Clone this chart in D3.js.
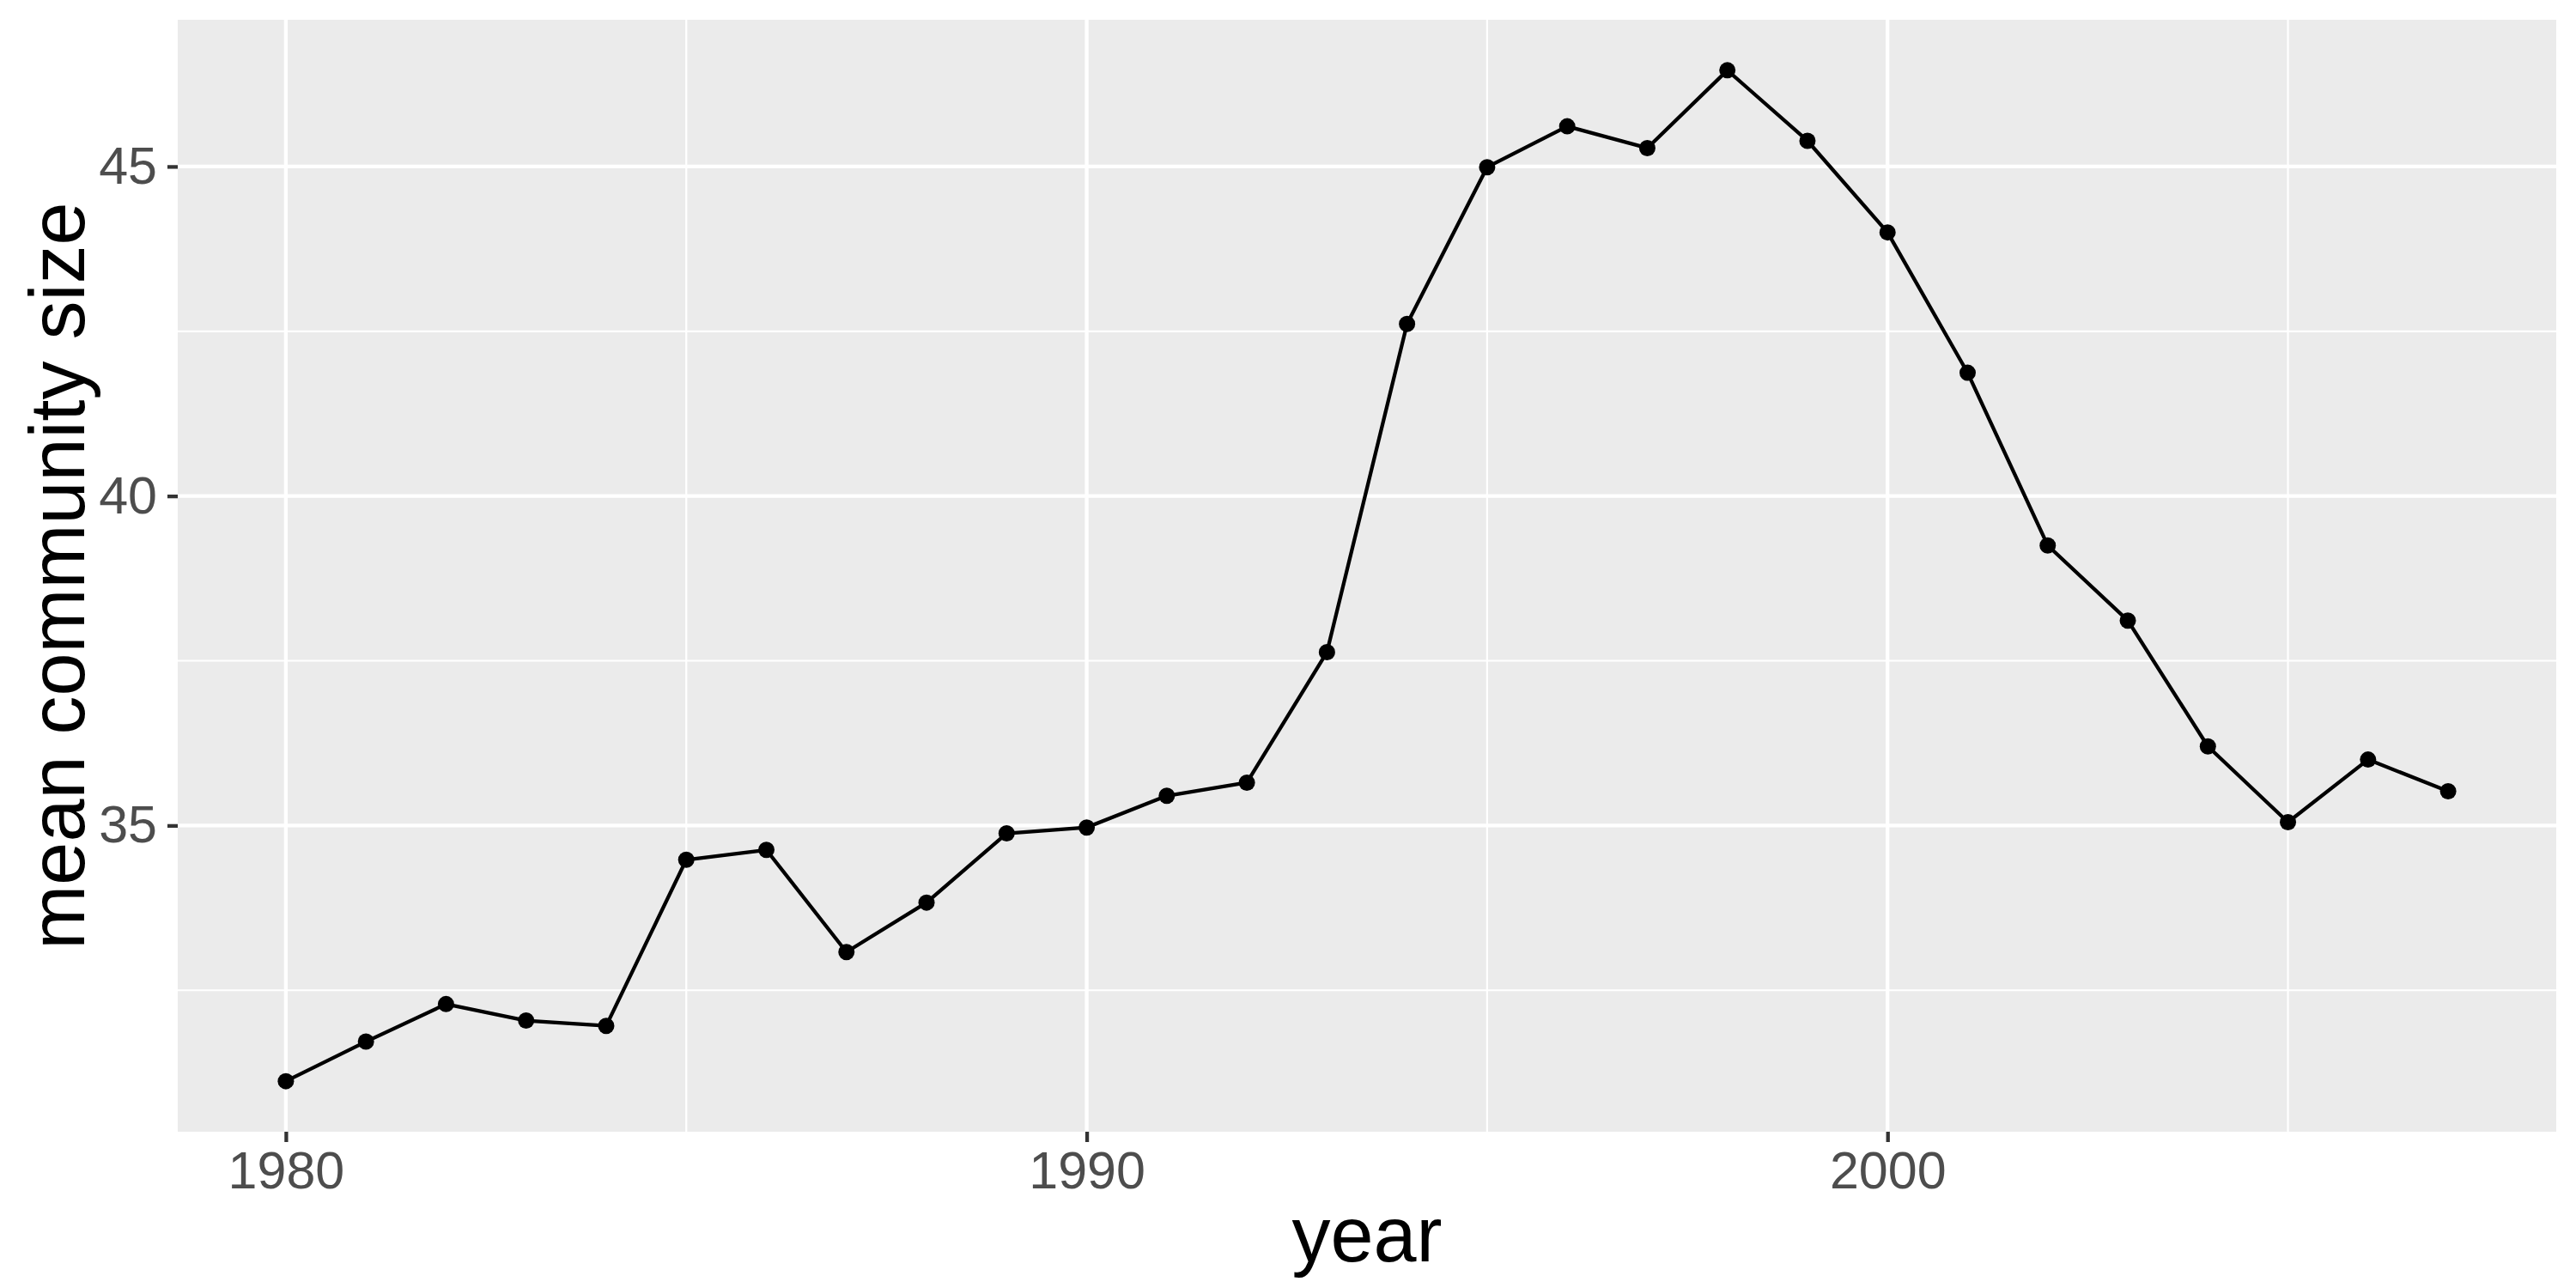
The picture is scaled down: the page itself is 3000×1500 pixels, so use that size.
<!DOCTYPE html>
<html>
<head>
<meta charset="utf-8">
<script src="https://cdn.jsdelivr.net/npm/d3@7"></script>
<style>
  html, body { margin: 0; padding: 0; background: #ffffff; }
  svg { display: block; }
  text { font-family: "Liberation Sans", Arial, Helvetica, sans-serif; }
</style>
</head>
<body>
<script>
const years = [1980,1981,1982,1983,1984,1985,1986,1987,1988,1989,1990,1991,1992,1993,
               1994,1995,1996,1997,1998,1999,2000,2001,2002,2003,2004,2005,2006,2007];
const meanSize = [31.12,31.72,32.29,32.04,31.96,34.48,34.63,33.08,33.83,34.88,34.97,35.45,35.65,37.63,
                  42.61,44.99,45.61,45.28,46.46,45.39,44.0,41.87,39.25,38.11,36.2,35.05,36.0,35.52];
const xTicks = [1980, 1990, 2000];
const xMinor = [1985, 1995, 2005];
const yTicks = [35, 40, 45];
const yMinor = [32.5, 37.5, 42.5];
const xLabel = "year";
const yLabel = "mean community size";

const W = 3000, H = 1500;
const panel = { left: 207, right: 2977, top: 23, bottom: 1318 };

const data = years.map((y, i) => ({ year: y, value: meanSize[i] }));

function expand(ext) {
  const r = ext[1] - ext[0];
  return [ext[0] - 0.05 * r, ext[1] + 0.05 * r];
}

const x = d3.scaleLinear().domain(expand(d3.extent(years))).range([panel.left, panel.right]);
const y = d3.scaleLinear().domain(expand(d3.extent(meanSize))).range([panel.bottom, panel.top]);

const svg = d3.select("body").append("svg").attr("width", W).attr("height", H);

svg.append("rect")
  .attr("x", panel.left).attr("y", panel.top)
  .attr("width", panel.right - panel.left).attr("height", panel.bottom - panel.top)
  .attr("fill", "#EBEBEB");

const grid = svg.append("g");
grid.selectAll("line.ymin").data(yMinor).join("line")
  .attr("x1", panel.left).attr("x2", panel.right)
  .attr("y1", d => y(d)).attr("y2", d => y(d))
  .attr("stroke", "#ffffff").attr("stroke-width", 2.2);
grid.selectAll("line.xmin").data(xMinor).join("line")
  .attr("y1", panel.top).attr("y2", panel.bottom)
  .attr("x1", d => x(d)).attr("x2", d => x(d))
  .attr("stroke", "#ffffff").attr("stroke-width", 2.2);
grid.selectAll("line.ymaj").data(yTicks).join("line")
  .attr("x1", panel.left).attr("x2", panel.right)
  .attr("y1", d => y(d)).attr("y2", d => y(d))
  .attr("stroke", "#ffffff").attr("stroke-width", 4.3);
grid.selectAll("line.xmaj").data(xTicks).join("line")
  .attr("y1", panel.top).attr("y2", panel.bottom)
  .attr("x1", d => x(d)).attr("x2", d => x(d))
  .attr("stroke", "#ffffff").attr("stroke-width", 4.3);

const line = d3.line().x(d => x(d.year)).y(d => y(d.value));
svg.append("path").datum(data)
  .attr("d", line)
  .attr("fill", "none")
  .attr("stroke", "#000000")
  .attr("stroke-width", 4.3)
  .attr("stroke-linejoin", "round");

svg.append("g").selectAll("circle").data(data).join("circle")
  .attr("cx", d => x(d.year)).attr("cy", d => y(d.value))
  .attr("r", 9.5).attr("fill", "#000000");

const xAxis = svg.append("g")
  .attr("transform", `translate(0,${panel.bottom})`)
  .call(d3.axisBottom(x).tickValues(xTicks).tickFormat(d3.format("d")).tickSize(12).tickPadding(11));
const yAxis = svg.append("g")
  .attr("transform", `translate(${panel.left},0)`)
  .call(d3.axisLeft(y).tickValues(yTicks).tickFormat(d3.format("d")).tickSize(12).tickPadding(12));

[xAxis, yAxis].forEach(a => {
  a.select(".domain").remove();
  a.selectAll(".tick line").attr("stroke", "#333333").attr("stroke-width", 4.3);
  a.selectAll(".tick text")
    .attr("fill", "#4D4D4D")
    .style("font-size", "61px")
    .style("font-family", '"Liberation Sans", Arial, Helvetica, sans-serif');
});

svg.append("text")
  .attr("x", (panel.left + panel.right) / 2)
  .attr("y", 1469)
  .attr("text-anchor", "middle")
  .attr("fill", "#000000")
  .style("font-size", "90px")
  .text(xLabel);

svg.append("text")
  .attr("transform", `translate(98,${(panel.top + panel.bottom) / 2}) rotate(-90)`)
  .attr("text-anchor", "middle")
  .attr("fill", "#000000")
  .style("font-size", "90px")
  .text(yLabel);
</script>
</body>
</html>
